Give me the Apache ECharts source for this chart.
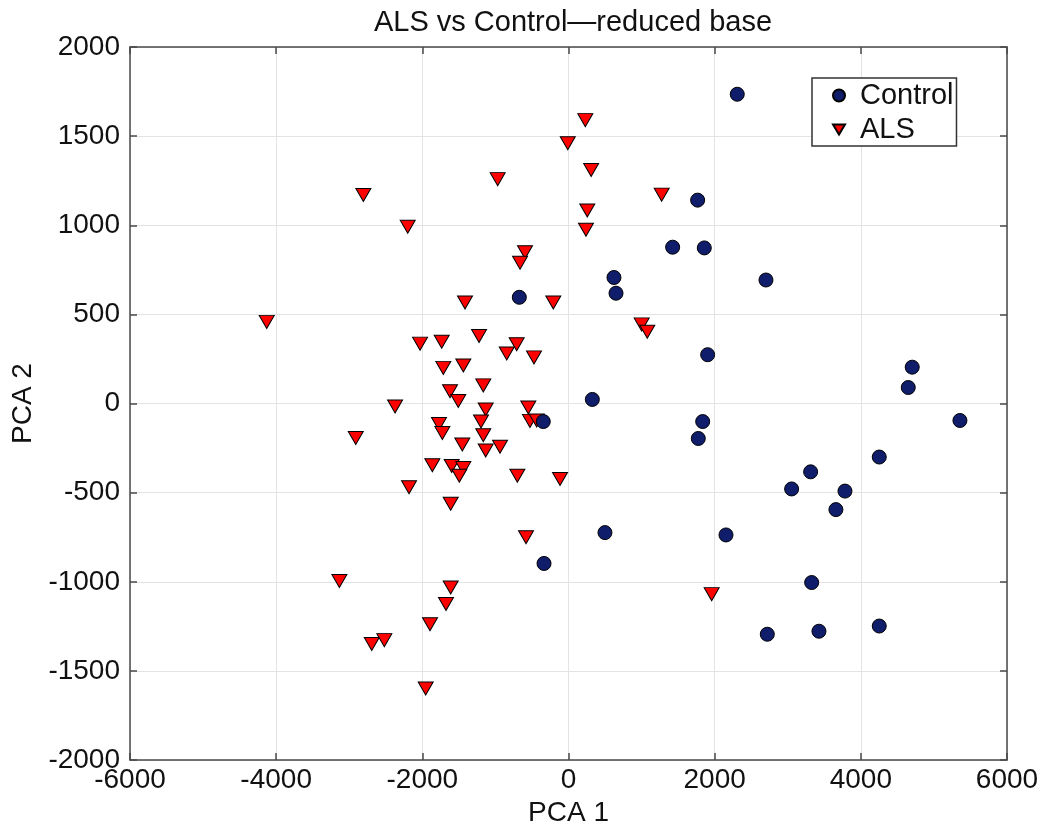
<!DOCTYPE html>
<html>
<head>
<meta charset="utf-8">
<script src="https://cdn.jsdelivr.net/npm/echarts@6/dist/echarts.min.js"></script>
<style>
  html, body { margin: 0; padding: 0; background: #fff; }
  #chart { width: 1044px; height: 832px; }
</style>
</head>
<body>
<div id="chart"></div>
<script>
// PCA scores
const controlPoints = [
  [2309, 1735], [1767, 1141], [1425, 877], [1858, 873], [2702, 693],
  [622, 707], [650, 619], [-673, 596], [1904, 274], [4703, 204],
  [4649, 90], [326, 23], [5356, -95], [1836, -101], [-345, -101],
  [1776, -196], [4252, -300], [3313, -383], [3053, -479], [3783, -491],
  [3659, -595], [499, -724], [2155, -737], [-335, -897], [3327, -1004],
  [2720, -1294], [3427, -1277], [4252, -1248]
];

const alsPoints = [
  [230, 1590], [-10, 1460], [310, 1310], [-969, 1259], [1275, 1172],
  [-2807, 1170], [257, 1083], [-2200, 992], [239, 975], [-595, 849],
  [-663, 790], [-4129, 458], [-1416, 567], [-208, 567], [1001, 444],
  [1078, 403], [-2031, 336], [-1735, 347], [-1224, 379], [-709, 333],
  [-845, 281], [-472, 259], [-1713, 200], [-1439, 213], [-1166, 102],
  [-1621, 69], [-1508, 14], [-2373, -17], [-1133, -33], [-550, -22],
  [-1772, -115], [-1197, -101], [-527, -97], [-435, -95], [-2911, -193],
  [-1726, -165], [-1166, -178], [-1453, -230], [-1133, -263], [-937, -242],
  [-1863, -346], [-1598, -350], [-1439, -362], [-1494, -405], [-700, -405],
  [-116, -423], [-2182, -469], [-1612, -562], [-581, -750], [-3135, -995],
  [-1612, -1032], [-1676, -1124], [-1895, -1238], [-2692, -1349], [-2520, -1327],
  [-1954, -1598], [1959, -1069]
];

const xRange = [-6000, 6000];
const yRange = [-2000, 2000];
const xStep = 2000;
const yStep = 500;

const FONT = '"Liberation Sans", Arial, Helvetica, sans-serif';
const AXIS_COLOR = '#4a4a4a';
const TRI_DOWN = 'path://M0,0L20,0L10,17Z';

const chart = echarts.init(document.getElementById('chart'));

const plainNum = v => String(v);

const axisBase = {
  type: 'value',
  axisLine: { show: true, onZero: false, lineStyle: { color: AXIS_COLOR, width: 1.5 } },
  axisTick: { show: true, inside: true, length: 7, lineStyle: { color: AXIS_COLOR, width: 1.5 } },
  axisLabel: { color: '#111', fontSize: 28, fontFamily: FONT, formatter: plainNum },
  splitLine: { show: true, lineStyle: { color: '#e3e3e3', width: 1 } }
};

const option = {
  backgroundColor: '#fff',
  animation: false,
  title: {
    text: 'ALS vs Control\u2014reduced base',
    left: 568,
    textAlign: 'center',
    top: 3,
    textStyle: { color: '#111', fontSize: 29, fontWeight: 'normal', fontFamily: FONT }
  },
  legend: {
    orient: 'vertical',
    left: 812,
    top: 78,
    padding: [3, 3, 2, 20],
    itemGap: 5,
    itemWidth: 12,
    itemHeight: 12,
    borderColor: '#333',
    borderWidth: 1.5,
    backgroundColor: '#fff',
    textStyle: { color: '#111', fontSize: 29, fontFamily: FONT, padding: [0, 0, 0, 10] },
    data: [
      { name: 'Control', icon: 'circle' },
      { name: 'ALS', icon: TRI_DOWN }
    ]
  },
  grid: { left: 130, right: 37, top: 47, bottom: 62, containLabel: false },
  xAxis: [
    Object.assign({}, axisBase, {
      min: xRange[0], max: xRange[1], interval: xStep,
      position: 'bottom',
      name: 'PCA 1',
      nameLocation: 'middle',
      nameGap: 34,
      nameTextStyle: { color: '#111', fontSize: 28, fontFamily: FONT },
      axisLabel: Object.assign({}, axisBase.axisLabel, { margin: 6 })
    }),
    Object.assign({}, axisBase, {
      min: xRange[0], max: xRange[1], interval: xStep,
      position: 'top',
      axisLabel: { show: false },
      splitLine: { show: false }
    })
  ],
  yAxis: [
    Object.assign({}, axisBase, {
      min: yRange[0], max: yRange[1], interval: yStep,
      position: 'left',
      name: 'PCA 2',
      nameLocation: 'middle',
      nameRotate: 90,
      nameGap: 86,
      nameTextStyle: { color: '#111', fontSize: 28, fontFamily: FONT },
      axisLabel: Object.assign({}, axisBase.axisLabel, { margin: 10 })
    }),
    Object.assign({}, axisBase, {
      min: yRange[0], max: yRange[1], interval: yStep,
      position: 'right',
      axisLabel: { show: false },
      splitLine: { show: false }
    })
  ],
  series: [
    {
      name: 'Control',
      type: 'scatter',
      data: controlPoints,
      symbol: 'circle',
      symbolSize: 14,
      itemStyle: { color: '#0f1d6b', opacity: 1, borderColor: '#000', borderWidth: 1 },
      z: 3
    },
    {
      name: 'ALS',
      type: 'scatter',
      data: alsPoints,
      symbol: TRI_DOWN,
      symbolSize: [15, 13],
      itemStyle: { color: '#ff0000', opacity: 1, borderColor: '#000', borderWidth: 1 },
      z: 2
    }
  ]
};

chart.setOption(option);
</script>
</body>
</html>
